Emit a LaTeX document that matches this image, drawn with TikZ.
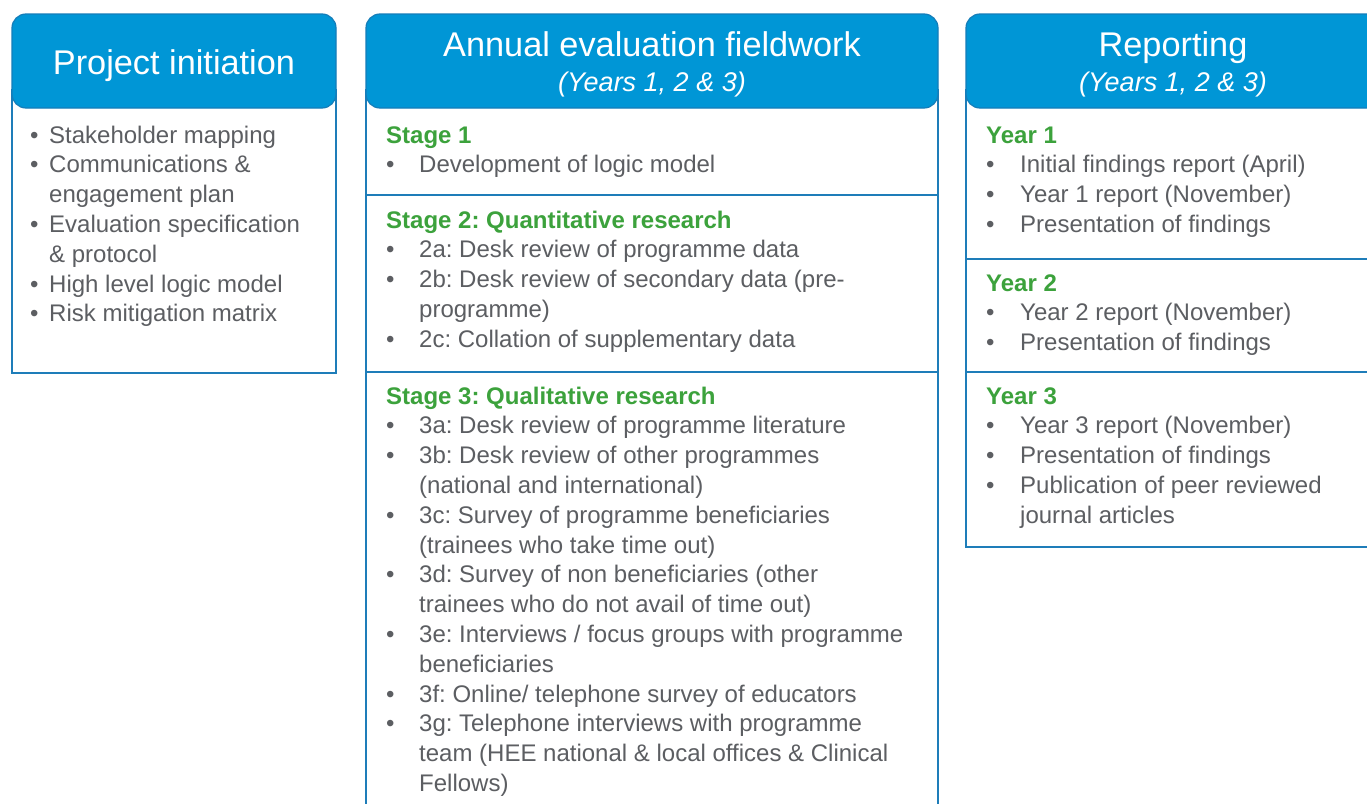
\documentclass[tikz,border=0pt]{standalone}
\usepackage{fontspec}
\setmainfont{Liberation Sans}
\frenchspacing
\definecolor{hdrfill}{RGB}{0,150,214}
\definecolor{hdrline}{RGB}{20,125,185}
\definecolor{boxline}{RGB}{30,125,185}
\definecolor{txtgray}{RGB}{92,94,98}
\definecolor{stagegreen}{RGB}{60,162,60}
\newcommand\bulx[1]{\makebox[#1][l]{\textbullet}}
\newcommand\indx[1]{\hspace*{#1}}
\newcommand\stg[1]{\multicolumn{1}{@{}l@{}}{\color{stagegreen}\bfseries #1}}
\tikzset{
  hdr/.style={fill=hdrfill, draw=hdrline, line width=1.2pt, rounded corners=14pt},
  bodybox/.style={draw=boxline, line width=2.4pt, fill=white},
  sepline/.style={draw=boxline, line width=2.4pt},
  htitle/.style={text=white, font=\fontsize{34.3}{40}\selectfont, anchor=base, inner sep=0pt},
  hsub/.style={text=white, font=\fontsize{27}{32}\selectfont\itshape, anchor=base, inner sep=0pt},
  bodytext/.style={text=txtgray, font=\fontsize{24}{29.8}\selectfont\frenchspacing, anchor=base west, inner sep=0pt},
}
\begin{document}
\begin{tikzpicture}[x=1pt,y=-1pt]
\useasboundingbox (0,0) rectangle (1367,803);
\clip (0,0) rectangle (1367,803);
\fill[white] (0,0) rectangle (1367,803);
% ---------- Left column ----------
\draw[bodybox] (12,90) rectangle (336,373);
\draw[hdr] (12,14) rectangle (336,108);
\node[htitle] (h1) at (174,74) {Project initiation};
\node[bodytext] (l1) at (30,143) {\begin{tabular}[t]{@{}l@{}}
\bulx{19pt}Stakeholder mapping\\
\bulx{19pt}Communications \&\\
\indx{19pt}engagement plan\\
\bulx{19pt}Evaluation specification\\
\indx{19pt}\& protocol\\
\bulx{19pt}High level logic model\\
\bulx{19pt}Risk mitigation matrix
\end{tabular}};
% ---------- Middle column ----------
\draw[bodybox] (366,90) rectangle (938,830);
\draw[sepline] (366,195) -- (938,195);
\draw[sepline] (366,372) -- (938,372);
\draw[hdr] (366,14) rectangle (938,108);
\node[htitle] (h2) at (652,56) {Annual evaluation fieldwork};
\node[hsub] (h2s) at (652,91) {(Years 1, 2 \& 3)};
\node[bodytext] (m1) at (386,143) {\begin{tabular}[t]{@{}l@{}}
\stg{Stage 1}\\
\bulx{33pt}Development of logic model
\end{tabular}};
\node[bodytext] (m2) at (386,228) {\begin{tabular}[t]{@{}l@{}}
\stg{Stage 2: Quantitative research}\\
\bulx{33pt}2a: Desk review of programme data\\
\bulx{33pt}2b: Desk review of secondary data (pre-\\
\indx{33pt}programme)\\
\bulx{33pt}2c: Collation of supplementary data
\end{tabular}};
\node[bodytext] (m3) at (386,404) {\begin{tabular}[t]{@{}l@{}}
\stg{Stage 3: Qualitative research}\\
\bulx{33pt}3a: Desk review of programme literature\\
\bulx{33pt}3b: Desk review of other programmes\\
\indx{33pt}(national and international)\\
\bulx{33pt}3c: Survey of programme beneficiaries\\
\indx{33pt}(trainees who take time out)\\
\bulx{33pt}3d: Survey of non beneficiaries (other\\
\indx{33pt}trainees who do not avail of time out)\\
\bulx{33pt}3e: Interviews / focus groups with programme\\
\indx{33pt}beneficiaries\\
\bulx{33pt}3f: Online/ telephone survey of educators\\
\bulx{33pt}3g: Telephone interviews with programme\\
\indx{33pt}team (HEE national \& local offices \& Clinical\\
\indx{33pt}Fellows)
\end{tabular}};
% ---------- Right column ----------
\draw[bodybox] (966,90) rectangle (1400,547);
\draw[sepline] (966,259) -- (1400,259);
\draw[sepline] (966,372) -- (1400,372);
\draw[hdr] (966,14) rectangle (1380,108);
\node[htitle] (h3) at (1173,56) {Reporting};
\node[hsub] (h3s) at (1173,91) {(Years 1, 2 \& 3)};
\node[bodytext] (r1) at (986,143) {\begin{tabular}[t]{@{}l@{}}
\stg{Year 1}\\
\bulx{34pt}Initial findings report (April)\\
\bulx{34pt}Year 1 report (November)\\
\bulx{34pt}Presentation of findings
\end{tabular}};
\node[bodytext] (r2) at (986,291) {\begin{tabular}[t]{@{}l@{}}
\stg{Year 2}\\
\bulx{34pt}Year 2 report (November)\\
\bulx{34pt}Presentation of findings
\end{tabular}};
\node[bodytext] (r3) at (986,404) {\begin{tabular}[t]{@{}l@{}}
\stg{Year 3}\\
\bulx{34pt}Year 3 report (November)\\
\bulx{34pt}Presentation of findings\\
\bulx{34pt}Publication of peer reviewed\\
\indx{34pt}journal articles
\end{tabular}};
\end{tikzpicture}
\end{document}
